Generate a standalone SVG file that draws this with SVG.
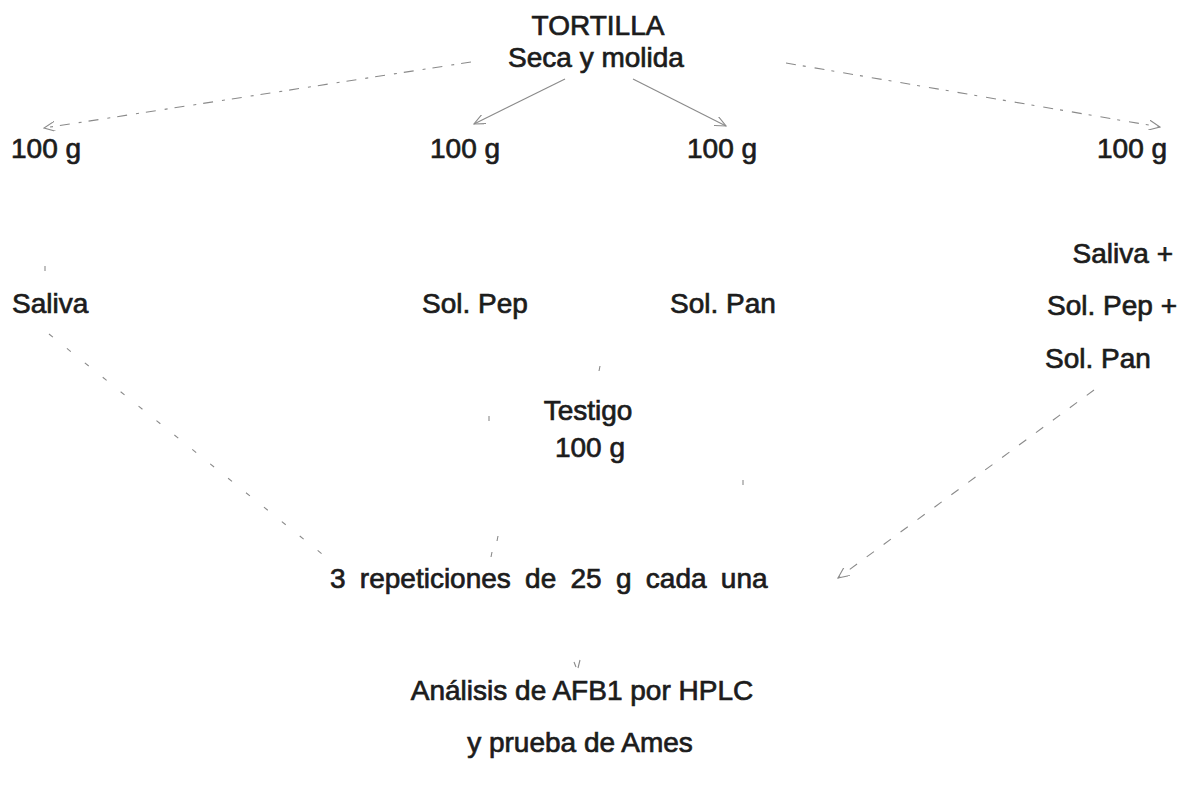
<svg xmlns="http://www.w3.org/2000/svg" width="1179" height="802" viewBox="0 0 1179 802">
<style>
text{font-family:"Liberation Sans",Arial,sans-serif;font-size:28px;fill:#1c1c1c;stroke:#1c1c1c;stroke-width:0.7}
.c{fill:none;stroke:#8a8a8a;stroke-width:1.1}
.d1{stroke-dasharray:10 7 3 9}
.d2{stroke-dasharray:5 18}
.d3{stroke-dasharray:9 12}
.ah{fill:none;stroke:#8a8a8a;stroke-width:1.1;stroke-dasharray:none}
</style>
<defs>
<marker id="arr" viewBox="0 0 12 10" refX="11" refY="5" markerWidth="12" markerHeight="10" markerUnits="userSpaceOnUse" orient="auto">
<path class="ah" d="M0,0 L11,5 L0,10"/>
</marker>
</defs>
<rect width="1179" height="802" fill="#ffffff"/>
<g id="connectors">
<path class="c d1" d="M471,62 L44,128" marker-end="url(#arr)"/>
<path class="c" d="M565,79 L474,124" marker-end="url(#arr)"/>
<path class="c" d="M633,79 L726,126" marker-end="url(#arr)"/>
<path class="c d1" d="M786,63 L1160,127" marker-end="url(#arr)"/>
<path class="c" d="M45,266 L45,271"/>
<path class="c d2" d="M49,334 L332,562"/>
<path class="c d3" d="M1094,390 L838,578" marker-end="url(#arr)"/>
<path class="c" d="M600,366 L599,371"/>
<path class="c" d="M489,416 L489,421"/>
<path class="c" d="M743,480 L743,485"/>
<path class="c" d="M498,536 L497,541"/>
<path class="c" d="M492,552 L491,557"/>
<path class="c" d="M574,662 L576,667 M580,660 L578,668"/>
</g>
<g id="tortilla">
<text x="598" y="35" text-anchor="middle">TORTILLA</text>
<text x="596" y="67" text-anchor="middle">Seca y molida</text>
</g>
<g id="n100a"><text x="11" y="158">100 g</text></g>
<g id="n100b"><text x="430" y="158">100 g</text></g>
<g id="n100c"><text x="687" y="158">100 g</text></g>
<g id="n100d"><text x="1097" y="158">100 g</text></g>
<g id="saliva"><text x="12" y="313">Saliva</text></g>
<g id="solpep"><text x="422" y="313">Sol. Pep</text></g>
<g id="solpan"><text x="670" y="313">Sol. Pan</text></g>
<g id="mezcla">
<text x="1173" y="263" text-anchor="end">Saliva +</text>
<text x="1177" y="315" text-anchor="end">Sol. Pep +</text>
<text x="1045" y="368">Sol. Pan</text>
</g>
<g id="testigo">
<text x="588" y="420" text-anchor="middle">Testigo</text>
<text x="590" y="457" text-anchor="middle">100 g</text>
</g>
<g id="repeticiones"><text x="330" y="588" word-spacing="6.5">3 repeticiones de 25 g cada una</text></g>
<g id="analisis">
<text x="582" y="700" text-anchor="middle">Análisis de AFB1 por HPLC</text>
<text x="580" y="752" text-anchor="middle">y prueba de Ames</text>
</g>
</svg>
